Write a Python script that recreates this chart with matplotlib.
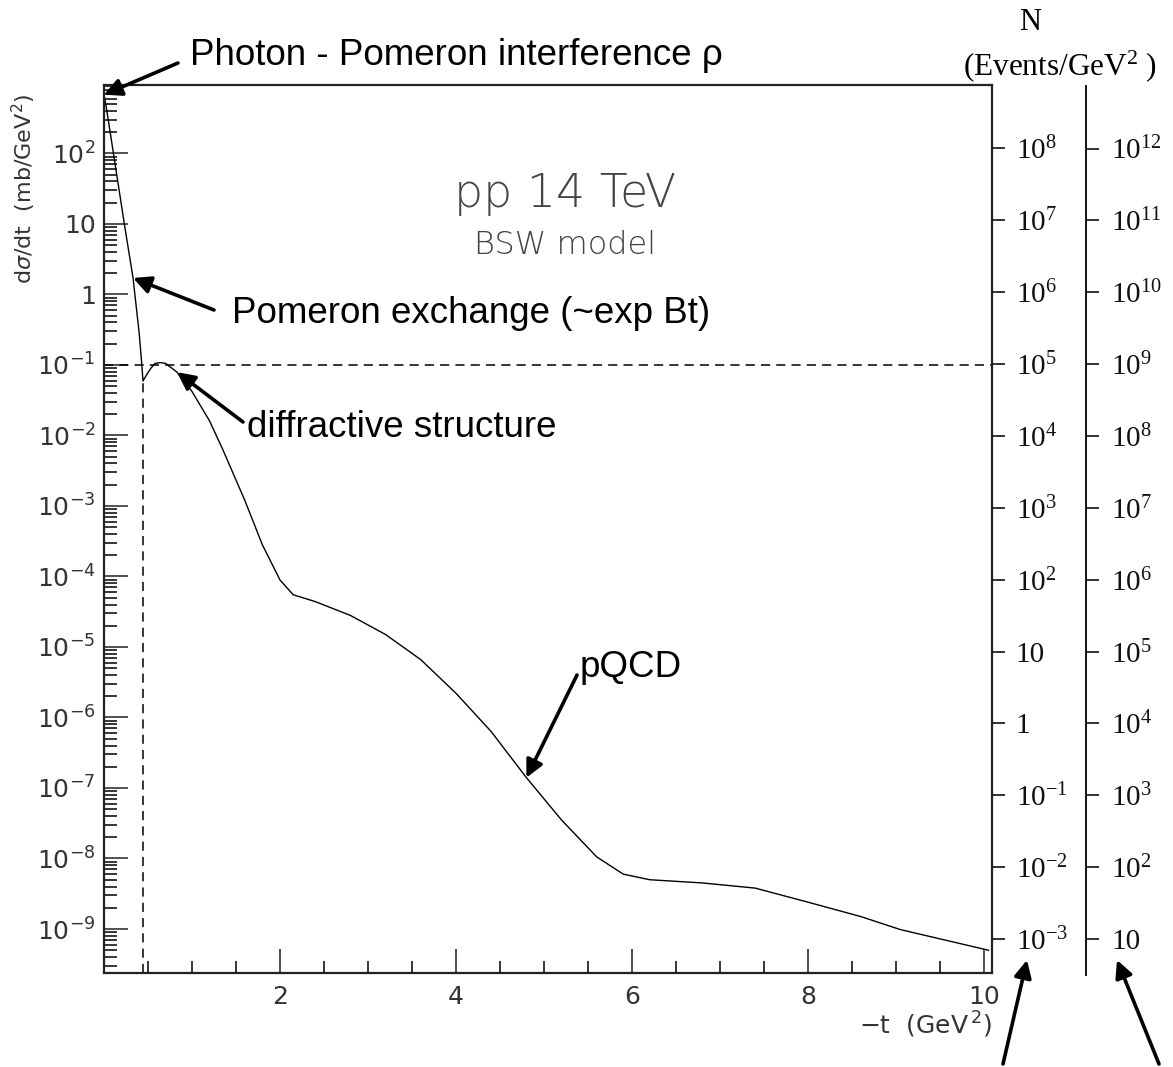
"""pp 14 TeV elastic dsigma/dt (BSW model) with event-count axes."""

import matplotlib
matplotlib.use("Agg")

import matplotlib.pyplot as plt
import matplotlib.ticker as mticker
import numpy as np

# ── data ────────────────────────────────────────────────────────────────
t_vals = [0.0, 0.03, 0.23, 0.33, 0.40, 0.43, 0.443, 0.48, 0.53, 0.58,
          0.64, 0.70, 0.83, 1.0, 1.2, 1.35, 1.6, 1.8, 2.0, 2.15,
          2.4, 2.8, 3.2, 3.6, 4.0, 4.4, 4.8, 5.2, 5.6, 5.9,
          6.2, 6.8, 7.4, 8.0, 8.6, 9.05, 10.05]
dsdt_vals = [6.8e2, 4.2e2, 10.2, 1.71, 0.28, 0.10, 0.059, 0.071, 0.089, 0.105,
             0.108, 0.105, 0.079, 0.042, 0.016, 6.3e-3, 1.2e-3, 2.8e-4, 8.9e-5, 5.5e-5,
             4.4e-5, 2.8e-5, 1.5e-5, 6.6e-6, 2.2e-6, 6.3e-7, 1.4e-7, 3.5e-8, 1.05e-8, 6.0e-9,
             5.0e-9, 4.5e-9, 3.8e-9, 2.4e-9, 1.5e-9, 9.8e-10, 5.0e-10]

dip_t = 0.443          # vertical dashed marker
ref_level = 0.1        # horizontal dashed marker (mb/GeV^2)

# event-count axes: N = factor * dsigma/dt
n_decades_1 = list(range(-3, 9))
n_decades_2 = list(range(1, 13))

W, H = 1173, 1067


def fx(px):
    return px / W


def fy(py):
    return 1 - py / H


def pow_label(v, _=None):
    e = int(round(np.log10(v)))
    if e == 0:
        return "1"
    if e == 1:
        return "10"
    return r"$\mathregular{10^{%d}}$" % e


fig = plt.figure(figsize=(W / 100, H / 100), dpi=100)
fig.patch.set_facecolor("white")

# ── main axes ───────────────────────────────────────────────────────────
ax = fig.add_axes([fx(104), fy(973), fx(992) - fx(104), fy(85) - fy(973)])
ax.set_yscale("log")
ax.set_xlim(0, 10.09)
ax.set_ylim(10 ** -9.624, 10 ** 2.97)

ax.plot(t_vals, dsdt_vals, color="black", lw=1.0)
ax.axhline(ref_level, color="black", lw=1.1, ls=(0, (6, 4)))
ax.plot([dip_t, dip_t], [10 ** -9.624, dsdt_vals[6]], color="black", lw=1.1,
        ls=(0, (6, 4)))

ax.xaxis.set_major_locator(mticker.MultipleLocator(2))
ax.xaxis.set_minor_locator(mticker.MultipleLocator(0.5))
ax.xaxis.set_major_formatter(
    mticker.FuncFormatter(lambda v, _: "" if abs(v) < 1e-9 else f"{v:g}"))
ax.yaxis.set_major_locator(mticker.LogLocator(base=10, numticks=40))
ax.yaxis.set_minor_locator(mticker.LogLocator(base=10, subs=np.arange(2, 10), numticks=200))
ax.yaxis.set_minor_formatter(mticker.NullFormatter())
ax.yaxis.set_major_formatter(mticker.FuncFormatter(pow_label))

ax.tick_params(which="major", direction="in", length=17, width=1.2,
               top=False, right=False, labelsize=18, colors="#333333",
               labelfontfamily="DejaVu Sans")
ax.tick_params(which="minor", direction="in", length=9, width=1.1,
               top=False, right=False)
ax.tick_params(axis="x", pad=9)
ax.tick_params(axis="y", pad=6)
for s in ax.spines.values():
    s.set_linewidth(1.6)
    s.set_color("#222222")

fig.text(fx(24), fy(189), r"d$\sigma$/dt  (mb/GeV$^{2}$)", rotation=90,
         ha="center", va="center", fontsize=16, color="#333333",
         family="DejaVu Sans")
fig.text(fx(992), fy(1025), r"$-$t  (GeV$^{\,2}$)", ha="right", va="center",
         fontsize=18, color="#333333", family="DejaVu Sans")

ax.text(5.24, 10 ** 1.42, "pp 14 TeV", ha="center", va="center", fontsize=33,
        color="#444444", family="DejaVu Sans", fontweight="light")
ax.text(5.24, 10 ** 0.70, "BSW model", ha="center", va="center", fontsize=23,
        color="#444444", family="DejaVu Sans", fontweight="light")

# ── right axis 1 (N, factor 1e6) ────────────────────────────────────────
ax_r1 = fig.add_axes([fx(104), fy(973), fx(992) - fx(104), fy(85) - fy(973)],
                     frameon=False)
ax_r1.patch.set_visible(False)
ax_r1.set_yscale("log")
ax_r1.set_ylim(10 ** -3.47, 10 ** 8.88)
ax_r1.xaxis.set_visible(False)
ax_r1.yaxis.tick_right()
ax_r1.set_yticks([10.0 ** e for e in n_decades_1])
ax_r1.yaxis.set_major_formatter(mticker.FuncFormatter(pow_label))
ax_r1.yaxis.set_minor_locator(mticker.NullLocator())
ax_r1.tick_params(axis="y", direction="out", length=9, width=1.2, pad=8,
                  labelsize=21, labelfontfamily="Liberation Serif",
                  colors="#111111")

# ── right axis 2 (N, factor 1e10) ───────────────────────────────────────
ax_r2 = fig.add_axes([fx(1085), fy(975), fx(1086) - fx(1085), fy(86) - fy(975)])
ax_r2.patch.set_visible(False)
for side in ("left", "top", "bottom"):
    ax_r2.spines[side].set_visible(False)
ax_r2.spines["right"].set_linewidth(1.4)
ax_r2.spines["right"].set_color("#111111")
ax_r2.set_yscale("log")
ax_r2.set_ylim(10 ** 0.50, 10 ** 12.87)
ax_r2.xaxis.set_visible(False)
ax_r2.yaxis.tick_right()
ax_r2.set_yticks([10.0 ** e for e in n_decades_2])
ax_r2.yaxis.set_major_formatter(mticker.FuncFormatter(pow_label))
ax_r2.yaxis.set_minor_locator(mticker.NullLocator())
ax_r2.tick_params(axis="y", direction="out", length=9, width=1.2, pad=9,
                  labelsize=21, labelfontfamily="Liberation Serif",
                  colors="#111111")

fig.text(fx(1030), fy(22), "N", ha="center", va="center", fontsize=22,
         family="Liberation Serif")
fig.text(fx(1060), fy(66), r"(Events/GeV$\mathregular{^{2}}$ )", ha="center",
         va="center", fontsize=22.5, family="Liberation Serif")

# ── annotations ─────────────────────────────────────────────────────────
arrow = dict(arrowstyle="-|>", color="black", lw=2.6, mutation_scale=26,
             shrinkA=0, shrinkB=0)
txt = dict(fontsize=26.5, family="Liberation Sans", color="black")

fig.text(fx(190), fy(65), "Photon - Pomeron interference ρ", va="baseline", **txt)
ax.annotate("", xy=(t_vals[0], dsdt_vals[0]), xytext=(fx(178), fy(63)),
            textcoords="figure fraction", arrowprops=arrow)

fig.text(fx(232), fy(323), "Pomeron exchange (~exp Bt)", va="baseline", **txt)
ax.annotate("", xy=(t_vals[3], dsdt_vals[3]), xytext=(fx(214), fy(310)),
            textcoords="figure fraction", arrowprops=arrow)

fig.text(fx(247), fy(437), "diffractive structure", va="baseline", **txt)
ax.annotate("", xy=(t_vals[12], dsdt_vals[12]), xytext=(fx(243), fy(422)),
            textcoords="figure fraction", arrowprops=arrow)

fig.text(fx(580), fy(677), "pQCD", va="baseline", **txt)
ax.annotate("", xy=(t_vals[26], dsdt_vals[26]), xytext=(fx(577), fy(675)),
            textcoords="figure fraction", arrowprops=arrow)

for tail, head in [((1003, 1064), (1027, 960)), ((1159, 1064), (1117, 960))]:
    ax.annotate("", xy=(fx(head[0]), fy(head[1])), xycoords="figure fraction",
                xytext=(fx(tail[0]), fy(tail[1])), textcoords="figure fraction",
                arrowprops=arrow, annotation_clip=False)

fig.savefig("out.png", dpi=100, facecolor=fig.get_facecolor())
